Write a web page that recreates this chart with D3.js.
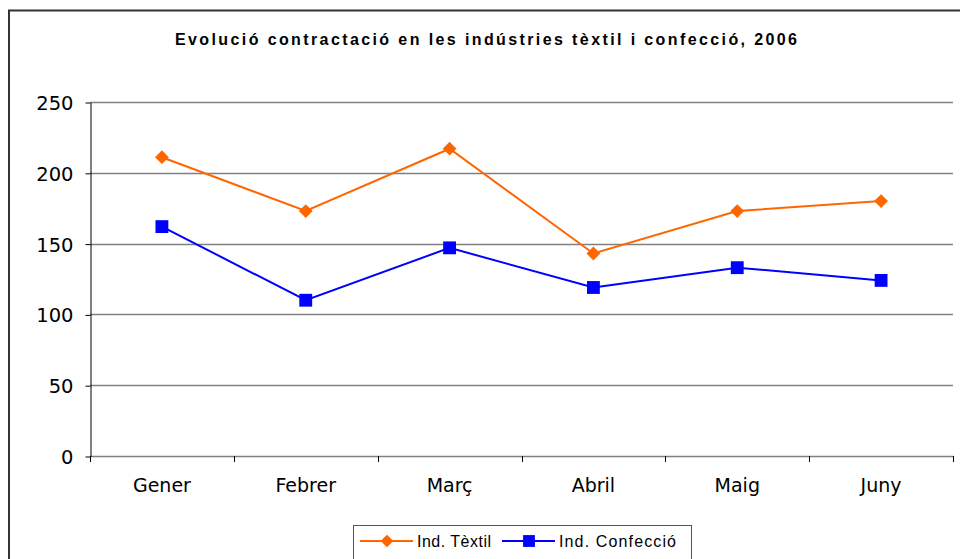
<!DOCTYPE html>
<html>
<head>
<meta charset="utf-8">
<script src="https://cdn.jsdelivr.net/npm/d3@7"></script>
<style>
  body { margin: 0; background: #fff; }
  svg { display: block; }
</style>
</head>
<body>
<div id="chart"></div>
<script>
// chart data
const months = ["Gener", "Febrer", "Març", "Abril", "Maig", "Juny"];
const textil = [211, 173, 217, 143, 173, 180];
const confeccio = [162, 110, 147, 119, 133, 124];
const yTicks = [0, 50, 100, 150, 200, 250];

const width = 960, height = 559;
const margin = {left: 90, right: 7, top: 102, bottom: 103};

let svg = d3.select("#chart").append("svg")
    .attr("width", width)
    .attr("height", height);

// outer frame (right and bottom edges run off the picture)
svg.append("rect")
    .attr("x", 9).attr("y", 10.5)
    .attr("width", 1000).attr("height", 1000)
    .attr("fill", "none")
    .attr("stroke", "#333")
    .attr("stroke-width", 2);

svg.append("text")
    .attr("x", 175).attr("y", 45)
    .attr("textLength", 622)
    .attr("lengthAdjust", "spacing")
    .style("font-family", "Liberation Sans, Arial, sans-serif")
    .style("font-weight", "bold")
    .style("font-size", "16px")
    .text("Evolució contractació en les indústries tèxtil i confecció, 2006");

let x = d3.scaleBand()
    .domain(months)
    .range([margin.left, width - margin.right]);

let y = d3.scaleLinear()
    .domain([0, 250])
    .range([height - margin.bottom, margin.top]);

// gridlines
svg.append("g")
    .selectAll("line")
    .data(yTicks)
    .enter().append("line")
    .attr("x1", margin.left).attr("x2", width - margin.right)
    .attr("y1", d => Math.round(y(d)) + 0.5)
    .attr("y2", d => Math.round(y(d)) + 0.5)
    .attr("stroke", "#808080")
    .attr("stroke-width", 1.3);

// y axis
let yAxis = svg.append("g")
    .attr("transform", "translate(" + (margin.left + 0.5) + ",0.5)")
    .call(d3.axisLeft(y).tickValues(yTicks).tickSize(5).tickSizeOuter(0).tickPadding(12));
yAxis.select(".domain").attr("stroke", "#000");
yAxis.selectAll(".tick line").attr("stroke", "#000");
yAxis.selectAll("text")
    .style("font-family", "DejaVu Sans, Verdana, sans-serif")
    .style("font-size", "19.5px")
    .attr("dy", "0.36em")
    .attr("fill", "#000");

// x axis
let xAxis = svg.append("g")
    .attr("transform", "translate(0," + (Math.round(y(0)) + 0.5) + ")")
    .call(d3.axisBottom(x).tickSize(0).tickPadding(22));
xAxis.select(".domain").remove();
xAxis.selectAll("text")
    .style("font-family", "DejaVu Sans, Verdana, sans-serif")
    .style("font-size", "19px")
    .attr("fill", "#000");
// category separators
let edges = months.map(m => x(m)).concat([x(months[months.length - 1]) + x.bandwidth()]);
svg.append("g")
    .selectAll("line")
    .data(edges)
    .enter().append("line")
    .attr("x1", d => Math.round(d) + 0.5).attr("x2", d => Math.round(d) + 0.5)
    .attr("y1", Math.round(y(0))).attr("y2", Math.round(y(0)) + 6)
    .attr("stroke", "#000");

let cx = d => x(d) + x.bandwidth() / 2;
let line = d3.line().x((d, i) => cx(months[i])).y(d => y(d));

// diamonds are squares turned 45 degrees
const series = [
    {name: "Ind. Tèxtil", values: textil, color: "#FF6600", size: 95, rot: 45},
    {name: "Ind. Confecció", values: confeccio, color: "#0000FF", size: 165, rot: 0}
];

series.forEach(s => {
    svg.append("path")
        .datum(s.values)
        .attr("d", line)
        .attr("fill", "none")
        .attr("stroke", s.color)
        .attr("stroke-width", 2);
    svg.append("g")
        .selectAll("path")
        .data(s.values)
        .enter().append("path")
        .attr("d", d3.symbol().type(d3.symbolSquare).size(s.size))
        .attr("transform", (d, i) => "translate(" + cx(months[i]) + "," + y(d) + ") rotate(" + s.rot + ")")
        .attr("fill", s.color);
});

// legend
let legend = svg.append("g");
legend.append("rect")
    .attr("x", 353.5).attr("y", 525.5)
    .attr("width", 338).attr("height", 60)
    .attr("fill", "#fff")
    .attr("stroke", "#555")
    .attr("stroke-width", 1);

const legendX = [360, 502];
const legendW = [74, 117];
series.forEach((s, i) => {
    let lx = legendX[i], ly = 541;
    legend.append("line")
        .attr("x1", lx).attr("x2", lx + 53)
        .attr("y1", ly).attr("y2", ly)
        .attr("stroke", s.color).attr("stroke-width", 2);
    legend.append("path")
        .attr("d", d3.symbol().type(d3.symbolSquare).size(s.size * 0.85))
        .attr("transform", "translate(" + (lx + 27) + "," + ly + ") rotate(" + s.rot + ")")
        .attr("fill", s.color);
    legend.append("text")
        .attr("x", lx + 57).attr("y", ly + 5.5)
        .attr("textLength", legendW[i])
        .attr("lengthAdjust", "spacing")
        .style("font-family", "Liberation Sans, Arial, sans-serif")
        .style("font-size", "16px")
        .text(s.name);
});
</script>
</body>
</html>
